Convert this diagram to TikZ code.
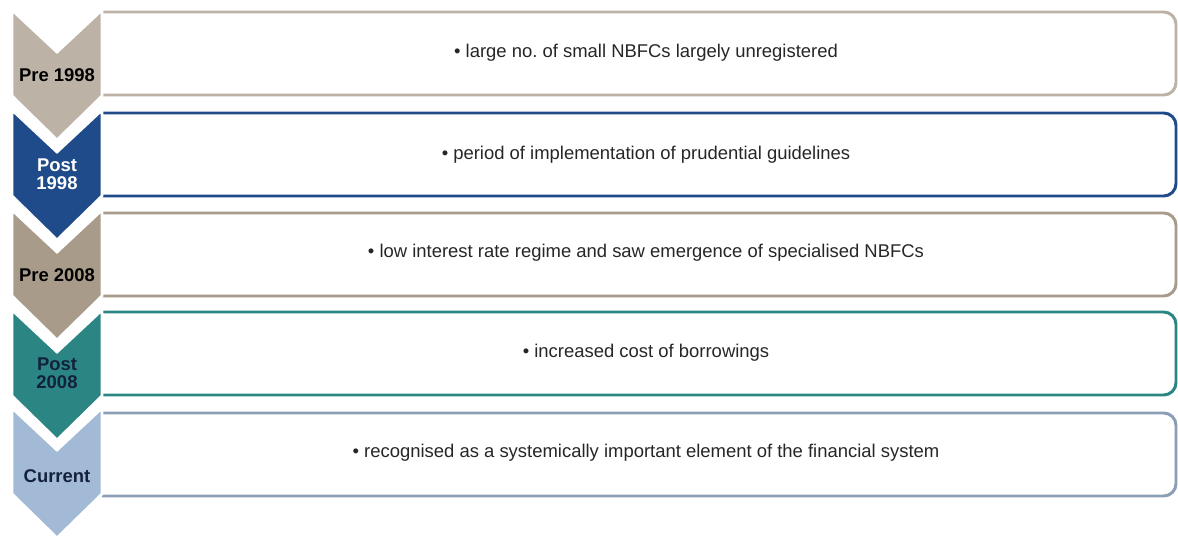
\documentclass[tikz,border=0pt]{standalone}
\usepackage{fontspec}
\setsansfont{Liberation Sans}
\usetikzlibrary{positioning}

\definecolor{sand}{HTML}{BCB3A6}
\definecolor{navy}{HTML}{1F4B8B}
\definecolor{taupe}{HTML}{A89B89}
\definecolor{tealgreen}{HTML}{2A8583}
\definecolor{skyblue}{HTML}{A2BAD5}
\definecolor{ink}{HTML}{14213D}

\begin{document}
\begin{tikzpicture}[
    x=0.02cm, y=-0.02cm,
    period/.style = {draw=white, line width=1.6pt},
    stage/.style = {align=center, font=\sffamily\bfseries\fontsize{10.5}{10.5}\selectfont},
    event/.style = {rounded corners=7pt, line width=1.7pt},
    note/.style = {text=black!85, font=\sffamily\fontsize{10.5}{12}\selectfont}
]
\useasboundingbox (0,0) rectangle (1178,540);

% boxes
\draw[event, draw=sand] (102,12) -- (1176,12) -- (1176,95) -- (102,95);
\draw[event, draw=navy] (102,113) -- (1176,113) -- (1176,196) -- (102,196);
\draw[event, draw=taupe] (102,213) -- (1176,213) -- (1176,296) -- (102,296);
\draw[event, draw=tealgreen] (102,312) -- (1176,312) -- (1176,395) -- (102,395);
\draw[event, draw=skyblue!85!black] (102,413) -- (1176,413) -- (1176,496) -- (102,496);

\node[note] (box1) at (646,53) {• large no.\ of small NBFCs largely unregistered};
\node[note] (box2) at (646,155) {• period of implementation of prudential guidelines};
\node[note] (box3) at (646,253) {• low interest rate regime and saw emergence of specialised NBFCs};
\node[note] (box4) at (646,353) {• increased cost of borrowings};
\node[note] (box5) at (646,453) {• recognised as a systemically important element of the financial system};

% chevrons
\draw[period, fill=sand] (12,10) -- (57,52) -- (102,10) -- (102,96) -- (57,140) -- (12,96) -- cycle;
\draw[period, fill=navy] (12,110) -- (57,152) -- (102,110) -- (102,196) -- (57,240) -- (12,196) -- cycle;
\draw[period, fill=taupe] (12,210) -- (57,252) -- (102,210) -- (102,296) -- (57,340) -- (12,296) -- cycle;
\draw[period, fill=tealgreen] (12,310) -- (57,352) -- (102,310) -- (102,396) -- (57,440) -- (12,396) -- cycle;
\draw[period, fill=skyblue] (12,408) -- (57,450) -- (102,408) -- (102,494) -- (57,538) -- (12,494) -- cycle;

\node[stage, text=black] (pre1998) at (57,75) {Pre 1998};
\node[stage, text=white] (post1998) at (57,174) {Post\\1998};
\node[stage, text=black] (pre2008) at (57,275) {Pre 2008};
\node[stage, text=ink] (post2008) at (57,373) {Post\\2008};
\node[stage, text=ink] (current) at (57,476) {Current};

\end{tikzpicture}
\end{document}
